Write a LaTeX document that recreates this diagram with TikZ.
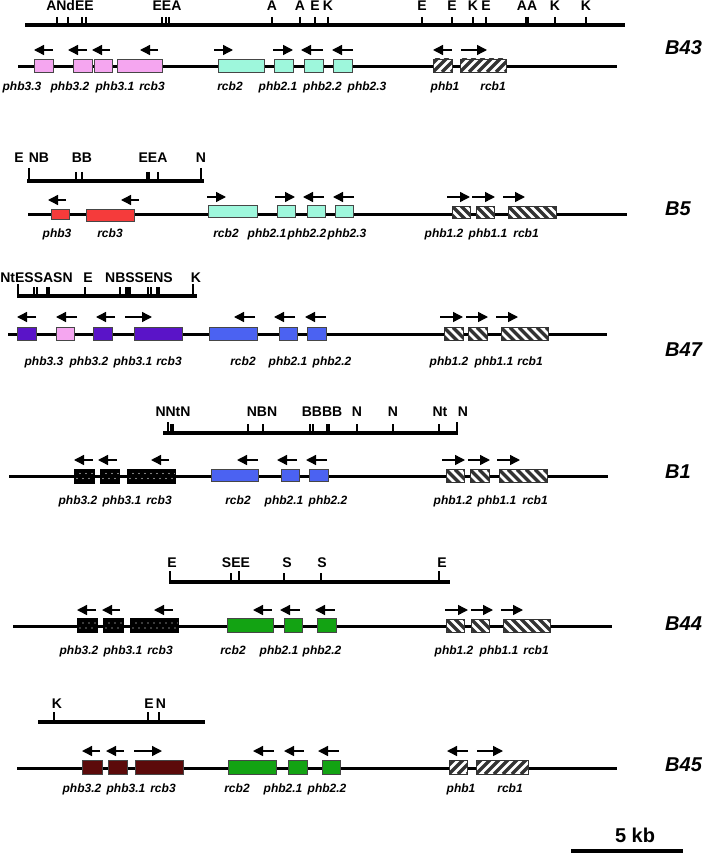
\documentclass[tikz,border=0pt]{standalone}
\usepackage{fontspec}
\setmainfont{Liberation Sans}
\usepackage{xcolor}
\usepackage{tikz}
\usetikzlibrary{arrows.meta}
\tikzset{
  geneline/.style={line width=3pt, draw=black},
  mapline/.style={line width=4pt, draw=black},
  cutsite/.style={line width=1.2pt, draw=black},
  dirarrow/.style={-{Triangle[length=10pt,width=10pt]}, line width=1.4pt, draw=black}
}
\definecolor{PhbPink}{HTML}{F5A6F0}
\definecolor{PhbCyan}{HTML}{9EF7DC}
\definecolor{PhbRed}{HTML}{F53B3B}
\definecolor{PhbViolet}{HTML}{5A14C8}
\definecolor{PhbBlue}{HTML}{4B62F2}
\definecolor{PhbGreen}{HTML}{13A313}
\definecolor{PhbMaroon}{HTML}{5C0A0A}
\newcommand\genefont{\fontsize{12}{14}\selectfont\bfseries\itshape}
\newcommand\sitefont{\fontsize{14}{16}\selectfont\bfseries}
\newcommand\strainfont{\fontsize{20}{22}\selectfont\bfseries\itshape}

\begin{document}
\begin{tikzpicture}[
  x=1pt, y=-1pt,
  gene/.style={draw=gray!55!black, line width=0.6pt, inner sep=0pt, minimum height=13pt},
  hatchne/.style={gene, draw=black!80, fill=white, path picture={
      \foreach \k in {-18,-9,...,54}
        \draw[line width=3.4pt] ([xshift=\k pt]path picture bounding box.south west) -- ++(20,-20);}},
  hatchnw/.style={gene, draw=black!80, fill=white, path picture={
      \foreach \k in {-18,-9,...,54}
        \draw[line width=3.4pt] ([xshift=\k pt]path picture bounding box.north west) -- ++(20,20);}},
  speckled/.style={gene, draw=black, fill=black, path picture={
      \foreach \k in {3,9,...,51} {
        \fill[white] ([xshift=\k pt,yshift=4.5pt]path picture bounding box.south west) circle (0.6pt);
        \fill[white] ([xshift=\k pt+3pt,yshift=9.5pt]path picture bounding box.south west) circle (0.6pt);}}},
  genelabel/.style={font=\genefont, anchor=base, inner sep=0pt},
  sitelabel/.style={font=\sitefont, anchor=base, inner sep=0pt},
  strainlabel/.style={font=\strainfont, anchor=base west, inner sep=0pt}
]
\useasboundingbox (0,0) rectangle (706,853);

% ---------------- B43 ----------------
\draw[mapline] (25,25) -- (625,25);
\draw[cutsite] (57,17) -- (57,25) (68,17) -- (68,25) (82,17) -- (82,25) (86,17) -- (86,25)
  (162,17) -- (162,25) (166,17) -- (166,25) (169,17) -- (169,25) (272,17) -- (272,25)
  (300,17) -- (300,25) (315,17) -- (315,25) (328,17) -- (328,25) (422,17) -- (422,25)
  (452,17) -- (452,25) (473,17) -- (473,25) (486,17) -- (486,25) (526,17) -- (526,25)
  (528,17) -- (528,25) (555,17) -- (555,25) (586,17) -- (586,25);
\node[sitelabel] at (70,10.5) (s43a) {ANdEE};
\node[sitelabel] at (167,10.5) (s43b) {EEA};
\node[sitelabel] at (272,10.5) (s43c) {A};
\node[sitelabel] at (300,10.5) (s43d) {A};
\node[sitelabel] at (315,10.5) (s43e) {E};
\node[sitelabel] at (328,10.5) (s43f) {K};
\node[sitelabel] at (422,10.5) (s43g) {E};
\node[sitelabel] at (452,10.5) (s43h) {E};
\node[sitelabel] at (473,10.5) (s43i) {K};
\node[sitelabel] at (486,10.5) (s43j) {E};
\node[sitelabel] at (527,10.5) (s43k) {AA};
\node[sitelabel] at (555,10.5) (s43l) {K};
\node[sitelabel] at (586,10.5) (s43m) {K};

\draw[geneline] (18,67) -- (617,67);
\node[gene, fill=PhbPink, minimum width=19pt] at (43.5,65.5) (b43phb33) {};
\node[gene, fill=PhbPink, minimum width=19pt] at (82.5,65.5) (b43phb32) {};
\node[gene, fill=PhbPink, minimum width=18pt] at (103,65.5) (b43phb31) {};
\node[gene, fill=PhbPink, minimum width=45pt] at (139.5,65.5) (b43rcb3) {};
\node[gene, fill=PhbCyan, minimum width=46pt] at (241,65.5) (b43rcb2) {};
\node[gene, fill=PhbCyan, minimum width=19pt] at (283.5,65.5) (b43phb21) {};
\node[gene, fill=PhbCyan, minimum width=19pt] at (313.5,65.5) (b43phb22) {};
\node[gene, fill=PhbCyan, minimum width=19pt] at (342.5,65.5) (b43phb23) {};
\node[hatchne, minimum width=19pt] at (442.5,65.5) (b43phb1) {};
\node[hatchne, minimum width=46pt] at (483,65.5) (b43rcb1) {};

\draw[dirarrow] (53,50) -- (34,50);
\draw[dirarrow] (87,50) -- (68,50);
\draw[dirarrow] (110,50) -- (92,50);
\draw[dirarrow] (158,50) -- (140,50);
\draw[dirarrow] (214,50) -- (233,50);
\draw[dirarrow] (273,50) -- (293,50);
\draw[dirarrow] (323,50) -- (301,50);
\draw[dirarrow] (353,50) -- (332,50);
\draw[dirarrow] (452,50) -- (433,50);
\draw[dirarrow] (461,50) -- (487,50);

\node[genelabel] at (22,91) (l43phb33) {phb3.3};
\node[genelabel] at (70,91) (l43phb32) {phb3.2};
\node[genelabel] at (115,91) (l43phb31) {phb3.1};
\node[genelabel] at (152,91) (l43rcb3) {rcb3};
\node[genelabel] at (230,91) (l43rcb2) {rcb2};
\node[genelabel] at (278,91) (l43phb21) {phb2.1};
\node[genelabel] at (322.5,91) (l43phb22) {phb2.2};
\node[genelabel] at (367,91) (l43phb23) {phb2.3};
\node[genelabel] at (445,91) (l43phb1) {phb1};
\node[genelabel] at (493,91) (l43rcb1) {rcb1};
\node[strainlabel] at (665,55) (b43) {B43};

% ---------------- B5 ----------------
\draw[mapline] (27,181) -- (204,181);
\draw[cutsite] (29,168) -- (29,181) (201,168) -- (201,181);
\draw[cutsite] (76,172) -- (76,181) (82,172) -- (82,181) (147,172) -- (147,181)
  (149,172) -- (149,181) (158,172) -- (158,181);
\node[sitelabel] at (19,163) (s5a) {E};
\node[sitelabel] at (39,163) (s5b) {NB};
\node[sitelabel] at (82,163) (s5c) {BB};
\node[sitelabel] at (153,163) (s5d) {EEA};
\node[sitelabel] at (201,163) (s5e) {N};

\draw[geneline] (28,214) -- (627,214);
\node[gene, fill=PhbRed, minimum width=18pt, minimum height=10pt] at (60,214) (b5phb3) {};
\node[gene, fill=PhbRed, minimum width=48pt, minimum height=12pt] at (110,215) (b5rcb3) {};
\node[gene, fill=PhbCyan, minimum width=49pt, minimum height=12pt] at (232.5,211.5) (b5rcb2) {};
\node[gene, fill=PhbCyan, minimum width=18pt, minimum height=12pt] at (286,211.5) (b5phb21) {};
\node[gene, fill=PhbCyan, minimum width=18pt, minimum height=12pt] at (316,211.5) (b5phb22) {};
\node[gene, fill=PhbCyan, minimum width=18pt, minimum height=12pt] at (344,211.5) (b5phb23) {};
\node[hatchnw, minimum width=18pt, minimum height=12pt] at (461,212) (b5phb12) {};
\node[hatchnw, minimum width=18pt, minimum height=12pt] at (485,212) (b5phb11) {};
\node[hatchnw, minimum width=48pt, minimum height=12pt] at (532,212) (b5rcb1) {};

\draw[dirarrow] (66,200) -- (48,200);
\draw[dirarrow] (139,200) -- (121,200);
\draw[dirarrow] (207,197) -- (226,197);
\draw[dirarrow] (275,197) -- (295,197);
\draw[dirarrow] (324,197) -- (303,197);
\draw[dirarrow] (354,197) -- (333,197);
\draw[dirarrow] (447,197) -- (470,197);
\draw[dirarrow] (472,197) -- (495,197);
\draw[dirarrow] (503,197) -- (525,197);

\node[genelabel] at (57,237) (l5phb3) {phb3};
\node[genelabel] at (110,237) (l5rcb3) {rcb3};
\node[genelabel] at (226,237) (l5rcb2) {rcb2};
\node[genelabel] at (267,237) (l5phb21) {phb2.1};
\node[genelabel] at (307,237) (l5phb22) {phb2.2};
\node[genelabel] at (347,237) (l5phb23) {phb2.3};
\node[genelabel] at (444,237) (l5phb12) {phb1.2};
\node[genelabel] at (488,237) (l5phb11) {phb1.1};
\node[genelabel] at (526,237) (l5rcb1) {rcb1};
\node[strainlabel] at (665,215) (b5) {B5};

% ---------------- B47 ----------------
\draw[mapline] (17,296) -- (197,296);
\draw[cutsite] (18,284) -- (18,296) (193,284) -- (193,296);
\draw[cutsite] (34,287) -- (34,296) (37,287) -- (37,296) (47,287) -- (47,296) (49,287) -- (49,296)
  (85,287) -- (85,296) (120,287) -- (120,296) (126,287) -- (126,296) (128,287) -- (128,296)
  (130,287) -- (130,296) (148,287) -- (148,296) (151,287) -- (151,296) (157,287) -- (157,296)
  (159,287) -- (159,296);
\node[sitelabel] at (36.5,282) (s47a) {NtESSASN};
\node[sitelabel] at (88,282) (s47b) {E};
\node[sitelabel] at (139,282) (s47c) {NBSSENS};
\node[sitelabel] at (196,282) (s47d) {K};

\draw[geneline] (8,334) -- (607,334);
\node[gene, fill=PhbViolet, minimum width=19pt] at (26.5,334) (b47phb33) {};
\node[gene, fill=PhbPink, minimum width=18pt] at (65,334) (b47phb32) {};
\node[gene, fill=PhbViolet, minimum width=19pt] at (102.5,334) (b47phb31) {};
\node[gene, fill=PhbViolet, minimum width=48pt] at (158,334) (b47rcb3) {};
\node[gene, fill=PhbBlue, minimum width=48pt] at (233,334) (b47rcb2) {};
\node[gene, fill=PhbBlue, minimum width=18pt] at (288,334) (b47phb21) {};
\node[gene, fill=PhbBlue, minimum width=19pt] at (316.5,334) (b47phb22) {};
\node[hatchnw, minimum width=19pt] at (453.5,334) (b47phb12) {};
\node[hatchnw, minimum width=19pt] at (477.5,334) (b47phb11) {};
\node[hatchnw, minimum width=47pt] at (524.5,334) (b47rcb1) {};

\draw[dirarrow] (36,317) -- (17,317);
\draw[dirarrow] (77,317) -- (56,317);
\draw[dirarrow] (115,317) -- (96,317);
\draw[dirarrow] (125,317) -- (152,317);
\draw[dirarrow] (255,317) -- (234,317);
\draw[dirarrow] (295,317) -- (274,317);
\draw[dirarrow] (326,317) -- (305,317);
\draw[dirarrow] (440,317) -- (463,317);
\draw[dirarrow] (466,317) -- (488,317);
\draw[dirarrow] (496,317) -- (518,317);

\node[genelabel] at (44,365) (l47phb33) {phb3.3};
\node[genelabel] at (89,365) (l47phb32) {phb3.2};
\node[genelabel] at (133,365) (l47phb31) {phb3.1};
\node[genelabel] at (169,365) (l47rcb3) {rcb3};
\node[genelabel] at (243,365) (l47rcb2) {rcb2};
\node[genelabel] at (288,365) (l47phb21) {phb2.1};
\node[genelabel] at (332,365) (l47phb22) {phb2.2};
\node[genelabel] at (449,365) (l47phb12) {phb1.2};
\node[genelabel] at (494,365) (l47phb11) {phb1.1};
\node[genelabel] at (530,365) (l47rcb1) {rcb1};
\node[strainlabel] at (665,356) (b47) {B47};

% ---------------- B1 ----------------
\draw[mapline] (163,433) -- (458,433);
\draw[cutsite] (168,422) -- (168,433) (457,422) -- (457,433);
\draw[cutsite] (171,424) -- (171,433) (173,424) -- (173,433) (248,424) -- (248,433)
  (357,424) -- (357,433) (393,424) -- (393,433) (439,424) -- (439,433)
  (310,424) -- (310,433) (313,424) -- (313,433) (327,424) -- (327,433) (329,424) -- (329,433);
\draw[cutsite, line width=2.4pt] (263,424) -- (263,433);
\node[sitelabel] at (173,416) (s1a) {NNtN};
\node[sitelabel] at (262,416) (s1b) {NBN};
\node[sitelabel] at (322,416) (s1c) {BBBB};
\node[sitelabel] at (357,416) (s1d) {N};
\node[sitelabel] at (393,416) (s1e) {N};
\node[sitelabel] at (440,416) (s1f) {Nt};
\node[sitelabel] at (463,416) (s1g) {N};

\draw[geneline] (9,476) -- (608,476);
\node[speckled, minimum width=20pt, minimum height=14pt] at (84,476) (b1phb32) {};
\node[speckled, minimum width=19pt, minimum height=14pt] at (109.5,476) (b1phb31) {};
\node[speckled, minimum width=48pt, minimum height=14pt] at (151,476) (b1rcb3) {};
\node[gene, fill=PhbBlue, minimum width=47pt, minimum height=12pt] at (234.5,475) (b1rcb2) {};
\node[gene, fill=PhbBlue, minimum width=18pt, minimum height=12pt] at (290,475) (b1phb21) {};
\node[gene, fill=PhbBlue, minimum width=19pt, minimum height=12pt] at (318.5,475) (b1phb22) {};
\node[hatchnw, minimum width=18pt] at (455,476) (b1phb12) {};
\node[hatchnw, minimum width=19pt] at (479.5,476) (b1phb11) {};
\node[hatchnw, minimum width=48pt] at (523,476) (b1rcb1) {};

\draw[dirarrow] (93,460) -- (74,460);
\draw[dirarrow] (117,460) -- (98,460);
\draw[dirarrow] (169,460) -- (151,460);
\draw[dirarrow] (258,460) -- (237,460);
\draw[dirarrow] (297,460) -- (277,460);
\draw[dirarrow] (327,460) -- (306,460);
\draw[dirarrow] (442,460) -- (465,460);
\draw[dirarrow] (468,460) -- (490,460);
\draw[dirarrow] (497,460) -- (520,460);

\node[genelabel] at (78,504) (l1phb32) {phb3.2};
\node[genelabel] at (122,504) (l1phb31) {phb3.1};
\node[genelabel] at (159,504) (l1rcb3) {rcb3};
\node[genelabel] at (238,504) (l1rcb2) {rcb2};
\node[genelabel] at (284,504) (l1phb21) {phb2.1};
\node[genelabel] at (328,504) (l1phb22) {phb2.2};
\node[genelabel] at (453,504) (l1phb12) {phb1.2};
\node[genelabel] at (497,504) (l1phb11) {phb1.1};
\node[genelabel] at (535,504) (l1rcb1) {rcb1};
\node[strainlabel] at (665,478) (b1) {B1};

% ---------------- B44 ----------------
\draw[mapline] (169,582) -- (450,582);
\draw[cutsite] (170,571) -- (170,582) (439,571) -- (439,582);
\draw[cutsite] (231,573) -- (231,582) (284,573) -- (284,582) (321,573) -- (321,582);
\draw[cutsite, line width=2.4pt] (239,571) -- (239,582);
\node[sitelabel] at (172,567) (s44a) {E};
\node[sitelabel] at (236,567) (s44b) {SEE};
\node[sitelabel] at (287,567) (s44c) {S};
\node[sitelabel] at (322,567) (s44d) {S};
\node[sitelabel] at (442,567) (s44e) {E};

\draw[geneline] (13,626) -- (612,626);
\node[speckled, minimum width=20pt, minimum height=14pt] at (87,625.5) (b44phb32) {};
\node[speckled, minimum width=20pt, minimum height=14pt] at (113,625.5) (b44phb31) {};
\node[speckled, minimum width=48pt, minimum height=14pt] at (154,625.5) (b44rcb3) {};
\node[gene, fill=PhbGreen, minimum width=46pt, minimum height=14pt] at (250,625) (b44rcb2) {};
\node[gene, fill=PhbGreen, minimum width=18pt, minimum height=14pt] at (293,625) (b44phb21) {};
\node[gene, fill=PhbGreen, minimum width=19pt, minimum height=14pt] at (326.5,625) (b44phb22) {};
\node[hatchnw, minimum width=18pt] at (455,625.5) (b44phb12) {};
\node[hatchnw, minimum width=18pt] at (480,625.5) (b44phb11) {};
\node[hatchnw, minimum width=47pt] at (526.5,625.5) (b44rcb1) {};

\draw[dirarrow] (96,610) -- (77,610);
\draw[dirarrow] (120,610) -- (102,610);
\draw[dirarrow] (173,610) -- (154,610);
\draw[dirarrow] (272,610) -- (253,610);
\draw[dirarrow] (300,610) -- (280,610);
\draw[dirarrow] (335,610) -- (315,610);
\draw[dirarrow] (445,610) -- (468,610);
\draw[dirarrow] (471,610) -- (493,610);
\draw[dirarrow] (501,610) -- (523,610);

\node[genelabel] at (79,654) (l44phb32) {phb3.2};
\node[genelabel] at (123,654) (l44phb31) {phb3.1};
\node[genelabel] at (160,654) (l44rcb3) {rcb3};
\node[genelabel] at (233,654) (l44rcb2) {rcb2};
\node[genelabel] at (279,654) (l44phb21) {phb2.1};
\node[genelabel] at (322,654) (l44phb22) {phb2.2};
\node[genelabel] at (454,654) (l44phb12) {phb1.2};
\node[genelabel] at (499,654) (l44phb11) {phb1.1};
\node[genelabel] at (536,654) (l44rcb1) {rcb1};
\node[strainlabel] at (665,630) (b44) {B44};

% ---------------- B45 ----------------
\draw[mapline] (38,722) -- (205,722);
\draw[cutsite] (54,712) -- (54,722) (148,712) -- (148,722) (159,712) -- (159,722);
\node[sitelabel] at (57,708) (s45a) {K};
\node[sitelabel] at (149,708) (s45b) {E};
\node[sitelabel] at (161,708) (s45c) {N};

\draw[geneline] (17,768) -- (617,768);
\node[gene, fill=PhbMaroon, minimum width=20pt, minimum height=14pt] at (92,767) (b45phb32) {};
\node[gene, fill=PhbMaroon, minimum width=19pt, minimum height=14pt] at (117.5,767) (b45phb31) {};
\node[gene, fill=PhbMaroon, minimum width=48pt, minimum height=14pt] at (159,767) (b45rcb3) {};
\node[gene, fill=PhbGreen, minimum width=48pt, minimum height=14pt] at (252,767) (b45rcb2) {};
\node[gene, fill=PhbGreen, minimum width=19pt, minimum height=14pt] at (297.5,767) (b45phb21) {};
\node[gene, fill=PhbGreen, minimum width=18pt, minimum height=14pt] at (331,767) (b45phb22) {};
\node[hatchne, minimum width=18pt, minimum height=14pt] at (458,767) (b45phb1) {};
\node[hatchne, minimum width=52pt, minimum height=14pt] at (502,767) (b45rcb1) {};

\draw[dirarrow] (100,751) -- (82,751);
\draw[dirarrow] (124,751) -- (106,751);
\draw[dirarrow] (134,751) -- (162,751);
\draw[dirarrow] (274,751) -- (253,751);
\draw[dirarrow] (304,751) -- (284,751);
\draw[dirarrow] (339,751) -- (318,751);
\draw[dirarrow] (468,751) -- (447,751);
\draw[dirarrow] (477,751) -- (503,751);

\node[genelabel] at (82,792) (l45phb32) {phb3.2};
\node[genelabel] at (126,792) (l45phb31) {phb3.1};
\node[genelabel] at (163,792) (l45rcb3) {rcb3};
\node[genelabel] at (237,792) (l45rcb2) {rcb2};
\node[genelabel] at (283,792) (l45phb21) {phb2.1};
\node[genelabel] at (327,792) (l45phb22) {phb2.2};
\node[genelabel] at (461,792) (l45phb1) {phb1};
\node[genelabel] at (510,792) (l45rcb1) {rcb1};
\node[strainlabel] at (665,771) (b45) {B45};

% Scale bar
\draw[mapline] (571,851) -- (683,851);
\node[font=\fontsize{20}{22}\selectfont\bfseries, anchor=base, inner sep=0pt] at (635,842) (scale) {5 kb};
\end{tikzpicture}
\end{document}
